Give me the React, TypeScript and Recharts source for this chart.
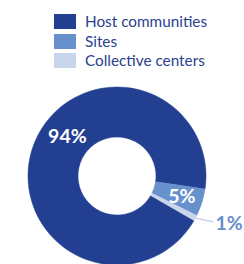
import { Cell, Legend, Pie, PieChart } from "recharts";

const categories = ["Host communities", "Sites", "Collective centers"];
const shares = [94, 5, 1];
const labels = ["94%", "5%", "1%"];

const colors = ["#233F92", "#6791CC", "#C9D5EA"];
const textColor = "#2B3F8F";

const data = categories.map((name, i) => ({ name, value: shares[i], label: labels[i] }));

const RAD = Math.PI / 180;

function SliceLabel(props: any) {
  const { cx, cy, midAngle, outerRadius, index } = props;
  const entry = data[index];
  if (index === 2) {
    // small slice: label outside with a thin leader line
    const sx = cx + outerRadius * Math.cos(-midAngle * RAD);
    const sy = cy + outerRadius * Math.sin(-midAngle * RAD);
    const ex = sx + 18;
    const ey = sy + 4;
    return (
      <g>
        <line x1={sx} y1={sy} x2={ex} y2={ey} stroke="#C9D5EA" strokeWidth={1.5} />
        <text
          x={ex + 2}
          y={ey + 1}
          dy="0.36em"
          fill="#6A8ECB"
          fontSize={19.5}
          fontWeight={700}
          fontFamily="Lato, sans-serif"
        >
          {entry.label}
        </text>
      </g>
    );
  }
  const angle = index === 0 ? midAngle - 20 : midAngle;
  const r = index === 0 ? 64 : 68;
  const x = cx + r * Math.cos(-angle * RAD);
  const y = cy + r * Math.sin(-angle * RAD);
  return (
    <text
      x={x}
      y={y}
      dy="0.36em"
      fill="#fff"
      fontSize={19.5}
      fontWeight={700}
      fontFamily="Lato, sans-serif"
      textAnchor="middle"
    >
      {entry.label}
    </text>
  );
}

function LegendBox() {
  return (
    <div style={{ fontFamily: "Lato, sans-serif", fontSize: 15.3, color: textColor, lineHeight: "19.5px" }}>
      {data.map((d, i) => (
        <div key={d.name} style={{ display: "flex", alignItems: "center", height: 19.5 }}>
          <span style={{ display: "inline-block", width: 22, height: 15, background: colors[i], marginRight: 9 }} />
          <span>{d.name}</span>
        </div>
      ))}
    </div>
  );
}

export default function App() {
  return (
    <div style={{ position: "absolute", left: 0, top: 0, width: 244, height: 264, background: "#fff" }}>
      <PieChart width={244} height={264} margin={{ top: 0, right: 0, bottom: 0, left: 0 }}>
        <Legend
          content={<LegendBox />}
          wrapperStyle={{ position: "absolute", top: 12, left: 54, width: 190 }}
        />
        <Pie
          data={data}
          dataKey="value"
          nameKey="name"
          cx={117}
          cy={176}
          innerRadius={39}
          outerRadius={89}
          startAngle={-30}
          endAngle={-390}
          label={SliceLabel}
          labelLine={false}
          isAnimationActive={false}
        >
          {data.map((d, i) => (
            <Cell key={d.name} fill={colors[i]} stroke={colors[i]} strokeWidth={0.5} />
          ))}
        </Pie>
      </PieChart>
    </div>
  );
}
